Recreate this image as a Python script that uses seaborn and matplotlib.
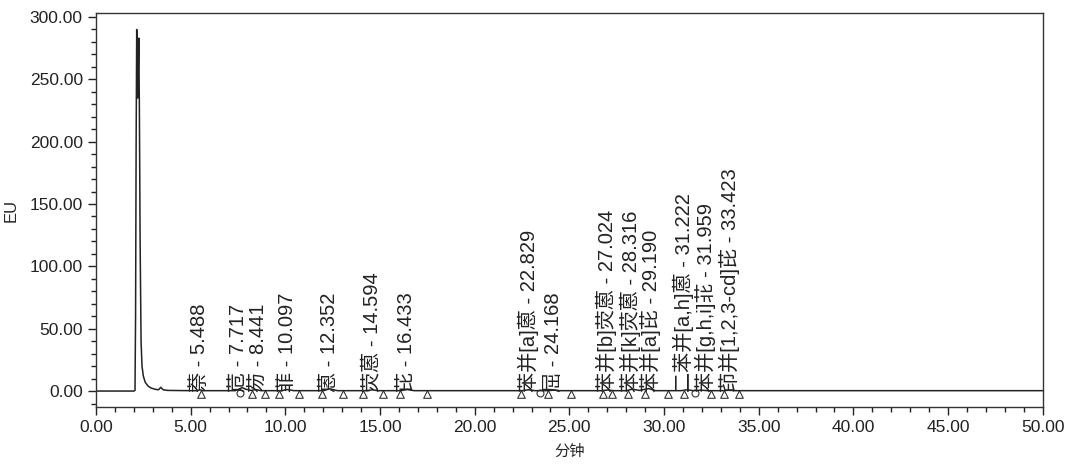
import seaborn as sns
import matplotlib.pyplot as plt
from matplotlib.ticker import MultipleLocator, FormatStrFormatter

# chromatogram trace (min, EU)
times = [0.0, 2.00, 2.06, 2.09, 2.12, 2.15, 2.18, 2.20, 2.23, 2.26, 2.29, 2.33,
         2.38, 2.43, 2.50, 2.60, 2.75, 2.90, 3.10, 3.30, 3.42, 3.55, 3.80, 5.00,
         5.35, 5.49, 5.65, 7.35, 7.55, 7.72, 7.90, 8.20, 8.44, 8.70, 9.80, 10.10,
         10.45, 12.00, 12.35, 12.75, 14.30, 14.59, 14.90, 16.10, 16.43, 16.80,
         22.50, 22.83, 23.20, 23.90, 24.17, 24.50, 26.70, 27.02, 27.35, 28.00,
         28.32, 28.70, 29.19, 29.55, 30.90, 31.22, 31.55, 31.96, 32.30, 33.10,
         33.42, 33.80, 50.0]
signal = [0.0, 0.0, 0.5, 60, 200, 290, 262, 235, 255, 283, 230, 120,
          40, 20, 12, 7, 4, 2.5, 1.5, 1.0, 3.0, 1.0, 0.5, 0.3,
          0.3, 1.0, 0.3, 0.3, 1.5, 2.8, 1.5, 0.5, 1.2, 0.3, 0.3, 1.2,
          0.3, 0.3, 1.8, 0.3, 0.3, 1.0, 0.3, 0.3, 1.2, 0.3,
          0.3, 1.0, 0.3, 0.3, 0.8, 0.3, 0.3, 0.8, 0.3, 0.3,
          1.5, 0.5, 2.0, 0.3, 0.3, 1.0, 0.3, 0.7, 0.3, 0.3,
          0.6, 0.3, 0.3]

# peak labels
peak_names = ["萘", "苊", "芴", "菲", "蒽", "荧蒽", "芘", "苯并[a]蒽", "屈",
              "苯并[b]荧蒽", "苯并[k]荧蒽", "苯并[a]芘", "二苯并[a,h]蒽",
              "苯并[g,h,i]苝", "茚并[1,2,3-cd]芘"]
peak_times = [5.488, 7.717, 8.441, 10.097, 12.352, 14.594, 16.433, 22.829,
              24.168, 27.024, 28.316, 29.190, 31.222, 31.959, 33.423]
# small sideways nudges (min) so crowded labels do not sit on each other
label_nudge = [0, -0.15, 0.15, 0, 0, 0, -0.05, 0, 0, -0.05, -0.11, 0.11,
               -0.2, 0.2, 0.05]

# integration markers on the baseline
tri_times = [5.55, 8.25, 8.92, 9.65, 10.7, 11.95, 13.05, 14.1, 15.15, 16.05,
             17.5, 22.45, 23.85, 25.1, 26.8, 27.25, 28.1, 29.0, 30.2, 31.05,
             32.5, 33.15, 33.95]
circ_times = [7.6, 23.45, 31.65]

sns.set_style("ticks")
plt.rcParams["font.family"] = ["Liberation Sans", "Noto Sans CJK SC"]

fig = plt.figure(figsize=(10.75, 4.66), dpi=100)
ax = fig.add_axes([0.0893, 0.1266, 0.8807, 0.8455])

sns.lineplot(x=times, y=signal, ax=ax, color="#222222", linewidth=1.1,
             sort=False, estimator=None)
sns.scatterplot(x=tri_times, y=[-2.0] * len(tri_times), ax=ax, marker="^",
                s=30, facecolor="white", edgecolor="#333333", linewidth=0.8)
sns.scatterplot(x=circ_times, y=[-1.5] * len(circ_times), ax=ax, marker="o",
                s=25, facecolor="white", edgecolor="#333333", linewidth=0.8)

for name, t, dx in zip(peak_names, peak_times, label_nudge):
    ax.text(t + dx, -1.0, f"{name} - {t:.3f}", rotation=90, ha="center",
            va="bottom", fontsize=14.5, color="#222222")

ax.set_xlim(0, 50)
ax.set_ylim(-12.8, 303.2)
ax.xaxis.set_major_locator(MultipleLocator(5))
ax.xaxis.set_minor_locator(MultipleLocator(1))
ax.yaxis.set_major_locator(MultipleLocator(50))
ax.yaxis.set_minor_locator(MultipleLocator(10))
ax.xaxis.set_major_formatter(FormatStrFormatter("%.2f"))
ax.yaxis.set_major_formatter(FormatStrFormatter("%.2f"))
ax.tick_params(which="major", length=6, width=1, labelsize=12.5, colors="#222222")
ax.tick_params(which="minor", length=3.5, width=1, colors="#222222")
for sp in ax.spines.values():
    sp.set_color("#333333")
    sp.set_linewidth(1.0)

ax.set_xlabel("分钟", fontsize=11, labelpad=7)
ax.set_ylabel("EU", fontsize=12, labelpad=8)

fig.savefig("out.png", dpi=100)
